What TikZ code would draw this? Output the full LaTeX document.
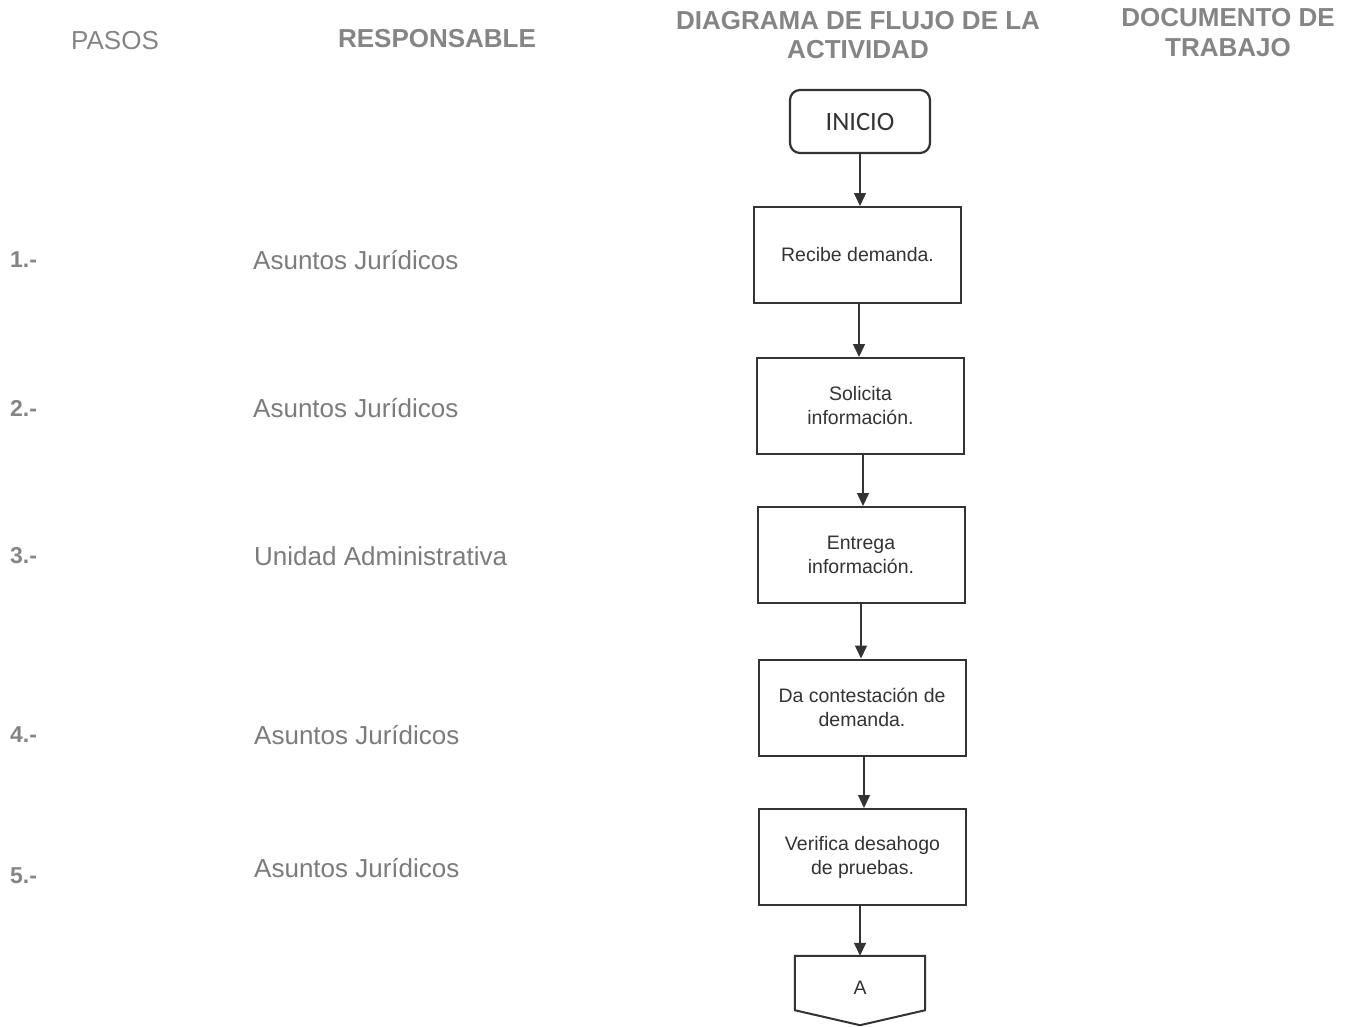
\documentclass[tikz,border=0pt]{standalone}
\usepackage{fontspec}
\setmainfont{Liberation Sans}
\newfontfamily\calfont{Carlito}
\usetikzlibrary{arrows.meta}
\definecolor{hdr}{HTML}{858585}
\definecolor{resp}{HTML}{7C7C7C}
\definecolor{ink}{HTML}{333333}
\begin{document}
\begin{tikzpicture}[x=1pt,y=-1pt,
  hdrtext/.style={text=hdr, font=\fontsize{26}{29.5}\selectfont\bfseries, align=center, inner sep=0},
  hdrplain/.style={text=hdr, font=\fontsize{26}{29}\selectfont, align=center, inner sep=0},
  stepnum/.style={text=hdr, font=\fontsize{23}{27}\selectfont\bfseries, anchor=west, inner sep=0},
  resptext/.style={text=resp, font=\fontsize{26}{30}\selectfont, anchor=west, inner sep=0},
  procbox/.style={draw=ink, line width=2pt, minimum width=207, minimum height=96, inner sep=0,
    align=center, text=ink, font=\fontsize{19.5}{24}\selectfont},
  startbox/.style={draw=ink, line width=2.2pt, rounded corners=10pt, minimum width=140, minimum height=63,
    inner sep=0, text=ink, font=\calfont\fontsize{26.5}{28}\selectfont},
  flow/.style={draw=ink, line width=1.4pt, -{Triangle[width=12pt,length=13pt]}}
]
\useasboundingbox[fill=white] (0,0) rectangle (1348,1027);

% headers
\node[hdrplain] (hpasos) at (115,41) {PASOS};
\node[hdrtext] (hresp) at (437,39) {RESPONSABLE};
\node[hdrtext] (hdiag) at (858,35) {DIAGRAMA DE FLUJO DE LA\\ACTIVIDAD};
\node[hdrtext] (hdoc) at (1228,32.5) {DOCUMENTO DE\\TRABAJO};

% steps
\node[stepnum] (s1) at (10,260) {1.-};
\node[stepnum] (s2) at (10,408) {2.-};
\node[stepnum] (s3) at (10,556) {3.-};
\node[stepnum] (s4) at (10,735) {4.-};
\node[stepnum] (s5) at (10,876) {5.-};

\node[resptext] (r1) at (253,260) {Asuntos Jurídicos};
\node[resptext] (r2) at (253,408) {Asuntos Jurídicos};
\node[resptext] (r3) at (254,556) {Unidad Administrativa};
\node[resptext] (r4) at (254,735) {Asuntos Jurídicos};
\node[resptext] (r5) at (254,868) {Asuntos Jurídicos};

% flowchart
\node[startbox] (inicio) at (860,121.5) {INICIO};
\node[procbox] (b1) at (857.5,255) {Recibe demanda.};
\node[procbox] (b2) at (860.5,406) {Solicita\\información.};
\node[procbox] (b3) at (861,555) {Entrega\\información.};
\node[procbox] (b4) at (862,707.5) {Da contestación de\\demanda.};
\node[procbox] (b5) at (862.5,857) {Verifica desahogo\\de pruebas.};
\node[minimum width=130, minimum height=54, inner sep=0,
      label={[text=ink, font=\fontsize{19.5}{24}\selectfont, inner sep=0, yshift=-5pt]center:A}]
      (conA) at (860,983) {};
\draw[ink, line width=2pt, line join=miter]
  (conA.north west) -- (conA.north east) -- (conA.south east)
  -- ([yshift=-15pt]conA.south) -- (conA.south west) -- cycle;

\draw[flow] (inicio.south) -- (inicio.south |- b1.north);
\draw[flow] ([xshift=1.5pt]b1.south) -- ([xshift=1.5pt]b1.south |- b2.north);
\draw[flow] ([xshift=2.5pt]b2.south) -- ([xshift=2.5pt]b2.south |- b3.north);
\draw[flow] (b3.south) -- (b3.south |- b4.north);
\draw[flow] ([xshift=2pt]b4.south) -- ([xshift=2pt]b4.south |- b5.north);
\draw[flow] ([xshift=-2.5pt]b5.south) -- ([xshift=-2.5pt]b5.south |- conA.north);
\end{tikzpicture}
\end{document}
